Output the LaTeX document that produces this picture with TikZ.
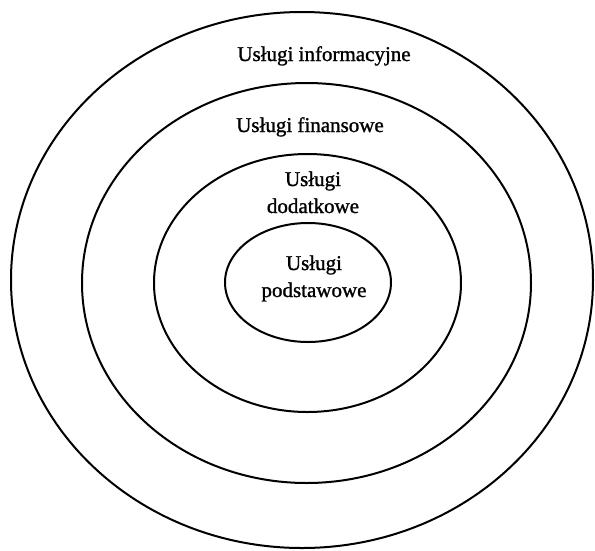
\documentclass[tikz,border=0pt]{standalone}
\usepackage{fontspec}
\setmainfont{Liberation Serif}
\newfontfamily\heavyserif[FakeBold=1.2]{Liberation Serif}
\usepackage{tikz}

\tikzset{
    ring/.style={line width=2pt},
    ringtext/.style={anchor=base, align=center, inner sep=0pt,
        font=\heavyserif\fontsize{21}{27}\selectfont}
}

\begin{document}
\begin{tikzpicture}[x=1pt, y=-1pt]

    \useasboundingbox (0, 0) rectangle (595, 550);

    \draw[ring] (302, 280) ellipse (291 and 268);
    \node[ringtext] (info) at (324, 61) {Usługi informacyjne};

    \draw[ring] (306.5, 283) ellipse (224.5 and 200);
    \node[ringtext] (fin) at (310, 132) {Usługi finansowe};

    \draw[ring] (307.5, 283) ellipse (153.5 and 129);
    \node[ringtext] (dod) at (313, 213) {Usługi\\dodatkowe};

    \draw[ring] (308, 282.5) ellipse (83 and 59.5);
    \node[ringtext] (pod) at (314, 297) {Usługi\\podstawowe};

\end{tikzpicture}
\end{document}
